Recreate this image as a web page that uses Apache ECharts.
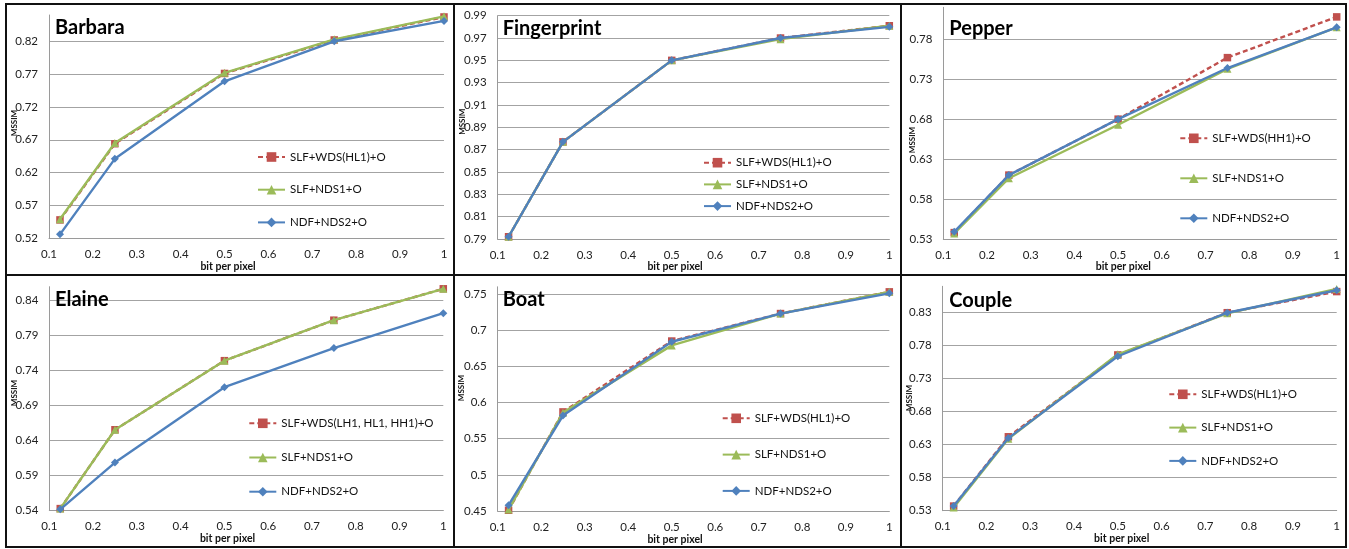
<!DOCTYPE html>
<html>
<head>
<meta charset="utf-8">
<script src="https://cdn.jsdelivr.net/npm/echarts@6/dist/echarts.min.js"></script>
<style>
html,body{margin:0;padding:0;background:#fff;}
#chart{width:1349px;height:549px;}
</style>
</head>
<body>
<div id="chart"></div>
<script>
// ---- data ----
const bitsPerPixel = [0.125, 0.25, 0.5, 0.75, 1];
const xTicks = [0.1, 0.2, 0.3, 0.4, 0.5, 0.6, 0.7, 0.8, 0.9, 1];

const seriesNames = ['SLF+NDS1+O', 'NDF+NDS2+O'];

const barbaraWDS = [0.548, 0.664, 0.771, 0.822, 0.857];
const barbaraNDS1 = [0.549, 0.665, 0.772, 0.823, 0.858];
const barbaraNDS2 = [0.526, 0.641, 0.759, 0.820, 0.851];
const barbaraYTicks = [0.52, 0.57, 0.62, 0.67, 0.72, 0.77, 0.82];

const fingerprintWDS = [0.792, 0.877, 0.950, 0.970, 0.981];
const fingerprintNDS1 = [0.792, 0.877, 0.950, 0.969, 0.981];
const fingerprintNDS2 = [0.792, 0.877, 0.950, 0.970, 0.980];
const fingerprintYTicks = [0.79, 0.81, 0.83, 0.85, 0.87, 0.89, 0.91, 0.93, 0.95, 0.97, 0.99];

const pepperWDS = [0.538, 0.610, 0.680, 0.757, 0.808];
const pepperNDS1 = [0.537, 0.606, 0.673, 0.743, 0.795];
const pepperNDS2 = [0.539, 0.610, 0.680, 0.744, 0.795];
const pepperYTicks = [0.53, 0.58, 0.63, 0.68, 0.73, 0.78];

const elaineWDS = [0.542, 0.655, 0.754, 0.812, 0.857];
const elaineNDS1 = [0.542, 0.655, 0.754, 0.812, 0.857];
const elaineNDS2 = [0.541, 0.608, 0.716, 0.772, 0.822];
const elaineYTicks = [0.54, 0.59, 0.64, 0.69, 0.74, 0.79, 0.84];

const boatWDS = [0.451, 0.587, 0.685, 0.723, 0.753];
const boatNDS1 = [0.452, 0.586, 0.679, 0.723, 0.753];
const boatNDS2 = [0.458, 0.582, 0.684, 0.723, 0.751];
const boatYTicks = [0.45, 0.5, 0.55, 0.6, 0.65, 0.7, 0.75];

const coupleWDS = [0.537, 0.642, 0.766, 0.830, 0.862];
const coupleNDS1 = [0.535, 0.639, 0.767, 0.829, 0.866];
const coupleNDS2 = [0.537, 0.640, 0.764, 0.830, 0.864];
const coupleYTicks = [0.53, 0.58, 0.63, 0.68, 0.73, 0.78, 0.83];

// ---- panels ----
const panels = [
  {title:'Barbara', wdsName:'SLF+WDS(HL1)+O', wds:barbaraWDS, nds1:barbaraNDS1, nds2:barbaraNDS2, ticks:barbaraYTicks, max:0.86,
   grid:{left:49, top:15, width:395, height:223.3}, titlePos:[55,18], legend:[257,151,20.7], mssim:[14,123], bpp:[228,266.7]},
  {title:'Fingerprint', wdsName:'SLF+WDS(HL1)+O ', wds:fingerprintWDS, nds1:fingerprintNDS1, nds2:fingerprintNDS2, ticks:fingerprintYTicks, max:0.99,
   grid:{left:497.7, top:15.7, width:391.6, height:223.3}, titlePos:[502.7,19], legend:[703,156.7,9.7], mssim:[462.3,121.7], bpp:[675,266.7]},
  {title:'Pepper', wdsName:'SLF+WDS(HH1)+O', wds:pepperWDS, nds1:pepperNDS1, nds2:pepperNDS2, ticks:pepperYTicks, max:0.82,
   grid:{left:943.3, top:7.3, width:393.4, height:231.7}, titlePos:[949.3,19], legend:[1179.3,132.3,28], mssim:[912,140], bpp:[1123.3,266.7]},
  {title:'Elaine', wdsName:'SLF+WDS(LH1, HL1, HH1)+O', wds:elaineWDS, nds1:elaineNDS1, nds2:elaineNDS2, ticks:elaineYTicks, max:0.86,
   grid:{left:49.3, top:286.7, width:394, height:223.3}, titlePos:[55,290], legend:[248.3,417.3,22.2], mssim:[14,393], bpp:[227.5,539]},
  {title:'Boat', wdsName:'SLF+WDS(HL1)+O  ', wds:boatWDS, nds1:boatNDS1, nds2:boatNDS2, ticks:boatYTicks, max:0.76,
   grid:{left:497.7, top:286.8, width:391.6, height:224.2}, titlePos:[502.7,290], legend:[721.7,412.3,24.3], mssim:[461.7,388], bpp:[675,540]},
  {title:'Couple', wdsName:'SLF+WDS(HL1)+O   ', wds:coupleWDS, nds1:coupleNDS1, nds2:coupleNDS2, ticks:coupleYTicks, max:0.87,
   grid:{left:942.7, top:286.3, width:394, height:224.4}, titlePos:[949.3,290.7], legend:[1168.3,388.3,21.3], mssim:[909.3,398], bpp:[1121.7,538.3]}
];

const FONT = 'Lato';
const fmt = v => String(parseFloat(Number(v).toFixed(3)));
const RED = '#C0504D', GREEN = '#9BBB59', BLUE = '#4F81BD';

const option = {
  animation:false,
  backgroundColor:'#fff',
  title:[], grid:[], xAxis:[], yAxis:[], series:[], legend:[], graphic:[]
};

panels.forEach((p, i) => {
  option.title.push({text:p.title, left:p.titlePos[0], top:p.titlePos[1], padding:0,
    textStyle:{fontFamily:FONT, fontWeight:'bold', fontSize:20, color:'#000'}});
  option.grid.push(Object.assign({containLabel:false}, p.grid));
  option.xAxis.push({gridIndex:i, type:'value', min:0.1, max:1, interval:0.1,
    axisLine:{show:true, lineStyle:{color:'#9a9a9a', width:1}},
    axisTick:{show:false, customValues:xTicks},
    axisLabel:{customValues:xTicks, formatter:fmt, margin:10, fontFamily:FONT, fontSize:11.5, color:'#222'},
    splitLine:{show:false}});
  option.yAxis.push({gridIndex:i, type:'value', min:p.ticks[0], max:p.max,
    axisLine:{show:true, lineStyle:{color:'#9a9a9a', width:1}},
    axisTick:{show:false, customValues:p.ticks},
    axisLabel:{customValues:p.ticks, formatter:fmt, margin:11, fontFamily:FONT, fontSize:11.5, color:'#222'},
    splitLine:{show:true, lineStyle:{color:'#a3a3a3', width:1}}});
  const mk = (name, vals, color, symbol, size, dashed, z) => ({
    name, type:'line', xAxisIndex:i, yAxisIndex:i,
    data: bitsPerPixel.map((x, k) => [x, vals[k]]),
    symbol, symbolSize:size, showSymbol:true,
    lineStyle:{color, width:2.4, type: dashed ? [5,3] : 'solid'},
    itemStyle:{color}, z
  });
  option.series.push(mk(p.wdsName, p.wds, RED, 'rect', 7.5, true, 2));
  option.series.push(mk(seriesNames[0], p.nds1, GREEN, 'triangle', 8, false, 3));
  option.series.push(mk(seriesNames[1], p.nds2, BLUE, 'diamond', 8, false, 4));
  option.legend.push({orient:'vertical', left:p.legend[0], top:p.legend[1], itemGap:p.legend[2],
    itemWidth:27, itemHeight:12, padding:0, selectedMode:false,
    data:[p.wdsName, seriesNames[0], seriesNames[1]],
    textStyle:{fontFamily:FONT, fontSize:11.5, color:'#111', lineHeight:12}});
  option.graphic.push({type:'text', x:p.mssim[0], y:p.mssim[1], rotation:Math.PI/2,
    style:{text:'MSSIM', fontFamily:FONT, fontWeight:'bold', fontSize:8, fill:'#111', align:'center', verticalAlign:'middle'}});
  option.graphic.push({type:'text', x:p.bpp[0], y:p.bpp[1],
    style:{text:'bit per pixel', fontFamily:FONT, fontWeight:'bold', fontSize:10.5, fill:'#111', align:'center', verticalAlign:'middle'}});
});

// panel borders
const bs = {stroke:'#111', lineWidth:2, fill:null};
option.graphic.push({type:'rect', shape:{x:6, y:4, width:1340, height:543}, style:bs, silent:true});
option.graphic.push({type:'line', shape:{x1:454, y1:4, x2:454, y2:547}, style:{stroke:'#111', lineWidth:2}, silent:true});
option.graphic.push({type:'line', shape:{x1:901, y1:4, x2:901, y2:547}, style:{stroke:'#111', lineWidth:2}, silent:true});
option.graphic.push({type:'line', shape:{x1:6, y1:275, x2:1346, y2:275}, style:{stroke:'#111', lineWidth:2}, silent:true});

const chart = echarts.init(document.getElementById('chart'), null, {renderer:'canvas'});
chart.setOption(option);
</script>
</body>
</html>
